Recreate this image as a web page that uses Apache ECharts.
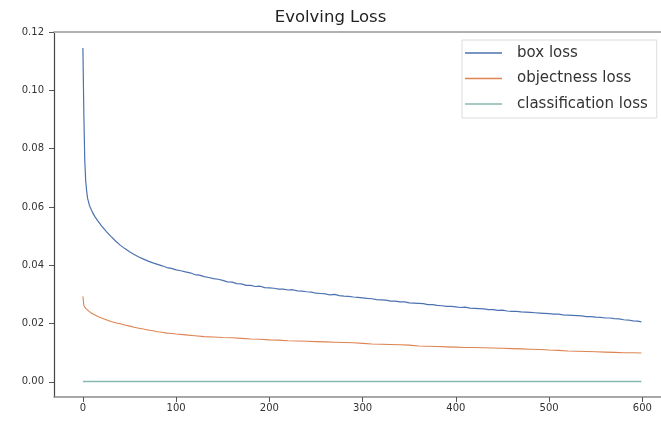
<!DOCTYPE html>
<html>
<head>
<meta charset="utf-8">
<script src="https://cdn.jsdelivr.net/npm/echarts@6/dist/echarts.min.js"></script>
<style>
    html, body {margin: 0; padding: 0; background: #fff;}
    #chart {width: 661px; height: 422px;}
</style>
</head>
<body>
<div id="chart"></div>
<script>
// values
const boxEpochs = [0, 1, 2, 3, 4, 5, 7, 10, 13, 16, 20, 25, 30, 35, 40, 45, 50, 55, 60, 65, 70, 75, 80, 85, 90, 95,
    100, 105, 110, 115, 120, 125, 130, 135, 140, 145, 150, 155, 160, 165, 170, 175, 180, 185, 190, 195,
    200, 205, 210, 215, 220, 225, 230, 235, 240, 245, 250, 255, 260, 265, 270, 275, 280, 285, 290, 295,
    300, 305, 310, 315, 320, 325, 330, 335, 340, 345, 350, 355, 360, 365, 370, 375, 380, 385, 390, 395,
    400, 405, 410, 415, 420, 425, 430, 435, 440, 445, 450, 455, 460, 465, 470, 475, 480, 485, 490, 495,
    500, 505, 510, 515, 520, 525, 530, 535, 540, 545, 550, 555, 560, 565, 570, 575, 580, 585, 590, 595, 599];
const boxLoss = [0.1145, 0.092, 0.076, 0.069, 0.0655, 0.063, 0.0605, 0.0583, 0.0566, 0.0552, 0.0535, 0.0516, 0.0499, 0.0483, 0.0469, 0.0457, 0.0446, 0.0437, 0.0428, 0.0421, 0.0414, 0.0408, 0.0403, 0.0398, 0.0392, 0.0389,
    0.0384, 0.0381, 0.0377, 0.0374, 0.0368, 0.0366, 0.0361, 0.0358, 0.0354, 0.0352, 0.0348, 0.0343, 0.0342, 0.0337, 0.0336, 0.0331, 0.0331, 0.0327, 0.0328, 0.0323,
    0.0322, 0.0321, 0.0318, 0.0318, 0.0315, 0.0316, 0.0312, 0.0311, 0.0309, 0.0308, 0.0304, 0.0303, 0.0302, 0.0298, 0.0300, 0.0296, 0.0294, 0.0293, 0.0291, 0.0290,
    0.0288, 0.0286, 0.0285, 0.0282, 0.0281, 0.0280, 0.0277, 0.0277, 0.0274, 0.0274, 0.0271, 0.0270, 0.0269, 0.0268, 0.0265, 0.0265, 0.0262, 0.0261, 0.0259, 0.0259,
    0.0257, 0.0255, 0.0256, 0.0253, 0.0252, 0.0251, 0.0250, 0.0248, 0.0248, 0.0245, 0.0246, 0.0243, 0.0242, 0.0242, 0.0240, 0.0239, 0.0238, 0.0237, 0.0236, 0.0235,
    0.0234, 0.0232, 0.0232, 0.0230, 0.0229, 0.0228, 0.0227, 0.0226, 0.0224, 0.0224, 0.0222, 0.0221, 0.0219, 0.0219, 0.0217, 0.0216, 0.0213, 0.0212, 0.0209, 0.0208, 0.0206];

const objEpochs = [0, 1, 2, 3, 5, 8, 12, 16, 20, 25, 30, 35, 40, 45, 50, 55, 60, 65, 70, 75, 80, 85, 90, 95,
    100, 110, 120, 130, 140, 150, 160, 170, 180, 190, 200, 210, 220, 230, 240, 250, 260, 270, 280, 290,
    300, 310, 320, 330, 340, 350, 360, 370, 380, 390, 400, 410, 420, 430, 440, 450, 460, 470, 480, 490,
    500, 510, 520, 530, 540, 550, 560, 570, 580, 590, 599];
const objLoss = [0.0293, 0.0262, 0.0256, 0.0252, 0.0246, 0.0238, 0.0231, 0.0224, 0.0219, 0.0213, 0.0207, 0.0203, 0.0199, 0.0195, 0.0191, 0.0187, 0.0184, 0.0181, 0.0178, 0.0175, 0.0172, 0.0170, 0.0167, 0.0166,
    0.0164, 0.0161, 0.0158, 0.0155, 0.0154, 0.0152, 0.0151, 0.0149, 0.0147, 0.0146, 0.0144, 0.0143, 0.0141, 0.0140, 0.0139, 0.0138, 0.0137, 0.0136, 0.0135, 0.0134,
    0.0132, 0.0130, 0.0129, 0.0128, 0.0127, 0.0126, 0.0123, 0.0122, 0.0121, 0.0120, 0.0119, 0.0118, 0.0118, 0.0117, 0.0116, 0.0115, 0.0114, 0.0113, 0.0112, 0.0111,
    0.0109, 0.0108, 0.0106, 0.0105, 0.0104, 0.0103, 0.0102, 0.0101, 0.0100, 0.0100, 0.0099];

const clsEpochs = [0, 100, 200, 300, 400, 500, 599];
const clsLoss = [0.0001, 0.0001, 0.0001, 0.0001, 0.0001, 0.0001, 0.0001];

const xTicks = [0, 100, 200, 300, 400, 500, 600];
const yTicks = [0, 0.02, 0.04, 0.06, 0.08, 0.10, 0.12];

const font = 'DejaVu Sans';
const zip = (xs, ys) => xs.map((x, i) => [x, ys[i]]);

let myChart = echarts.init(document.getElementById('chart'), null, {renderer: 'canvas'});

let lineSeries = (name, xs, ys, color, width) => ({
    name: name,
    type: 'line',
    data: zip(xs, ys),
    showSymbol: false,
    symbol: 'none',
    animation: false,
    lineStyle: {color: color, width: width},
    itemStyle: {color: color}
});

let option = {
    backgroundColor: '#fff',
    title: {
        text: 'Evolving Loss',
        left: 'center',
        top: 4,
        textStyle: {fontFamily: font, fontSize: 16.5, fontWeight: 'normal', color: '#222'}
    },
    legend: {
        orient: 'vertical',
        left: 462,
        top: 40,
        padding: [5, 9, 6, 3],
        icon: 'rect',
        itemWidth: 37,
        itemHeight: 1.5,
        itemGap: 9.5,
        borderColor: '#dcdcdc',
        borderWidth: 1,
        backgroundColor: '#fff',
        textStyle: {fontFamily: font, fontSize: 15, lineHeight: 16, color: '#333', padding: [0, 0, 0, 10]},
        data: ['box loss', 'objectness loss', 'classification loss']
    },
    grid: {left: 54, top: 32, right: 0, bottom: 25},
    xAxis: [{
        type: 'value',
        min: -31,
        max: 620,
        splitLine: {show: false},
        axisLine: {onZero: false, lineStyle: {color: '#8c8c8c', width: 1.5}},
        axisTick: {customValues: xTicks, length: 5, lineStyle: {color: '#555'}},
        axisLabel: {customValues: xTicks, margin: 6, fontFamily: font, fontSize: 10, color: '#333'}
    }, {
        type: 'value',
        position: 'top',
        min: -31,
        max: 620,
        splitLine: {show: false},
        axisLine: {show: true, onZero: false, lineStyle: {color: '#b0b0b0', width: 2}},
        axisTick: {show: false},
        axisLabel: {show: false}
    }],
    yAxis: {
        type: 'value',
        min: -0.0052,
        max: 0.12,
        splitLine: {show: false},
        axisLine: {show: true, onZero: false, lineStyle: {color: '#444', width: 1.2}},
        axisTick: {show: true, customValues: yTicks, length: 5, lineStyle: {color: '#555'}},
        axisLabel: {
            customValues: yTicks,
            margin: 10,
            fontFamily: font,
            fontSize: 10,
            color: '#333',
            formatter: v => v.toFixed(2)
        }
    },
    series: [
        lineSeries('box loss', boxEpochs, boxLoss, '#4c72b0', 1.2),
        lineSeries('objectness loss', objEpochs, objLoss, '#dd8452', 1.1),
        lineSeries('classification loss', clsEpochs, clsLoss, '#86b8b0', 1.5)
    ]
};

myChart.setOption(option);
</script>
</body>
</html>
